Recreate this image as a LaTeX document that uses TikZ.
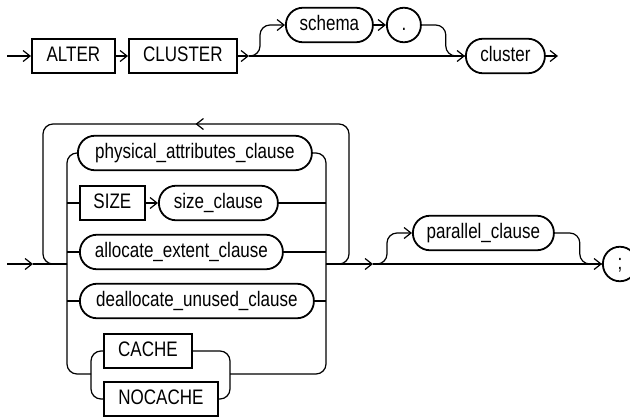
\documentclass[tikz,border=0pt]{standalone}
\usepackage{fontspec}
\setmainfont{Liberation Sans}[FakeStretch=0.81]
\usetikzlibrary{arrows.meta,decorations.markings}

\begin{document}
\begin{tikzpicture}[x=1pt, y=-1pt,
  font=\fontsize{21}{25}\selectfont,
  >={Straight Barb[length=7pt,width=11pt]},
  rail/.style={line width=1.2pt},
  kwbox/.style={draw, line width=1.8pt, anchor=west, minimum height=34.5pt,
    inner xsep=4pt, text height=15pt, text depth=4.5pt},
  ntbox/.style={kwbox, rounded corners=17pt}]
  \useasboundingbox (0,0) rectangle (630,418);

  % First line: ALTER CLUSTER [schema .] cluster
  \node[kwbox, minimum width=83pt] (ALTER) at (31,56) {ALTER};
  \node[kwbox, minimum width=108pt] (CLUSTER) at (128,56) {CLUSTER};
  \node[ntbox, minimum width=87pt] (schema) at (285,25) {schema};
  \node[ntbox, minimum width=34pt] (dot) at (386,25) {.};
  \node[ntbox, minimum width=79pt] (cluster) at (465,56) {cluster};
  \coordinate (in1) at (7,56);
  \coordinate (fork1) at (249,56);
  \coordinate (out1) at (558,56);

  \draw[rail, ->] (in1) -- (ALTER);
  \draw[rail, ->] (ALTER) -- (CLUSTER);
  \draw[rail, ->] (CLUSTER) -- (fork1);
  \draw[rail, ->] (fork1) -- (cluster);
  \draw[rail, ->, rounded corners=10pt] (fork1) -- ++(11,0) |- (schema.west);
  \draw[rail, ->] (schema) -- (dot);
  \draw[rail, rounded corners=10pt] (dot.east) -- ++(24,0) |- (cluster.west);
  \draw[rail, ->] (cluster) -- (out1);

  % Second line: repeated choice of clauses, then [parallel_clause] ;
  \node[ntbox, minimum width=234pt] (physical) at (77,153) {physical\_attributes\_clause};
  \node[kwbox, minimum width=65pt] (SIZE) at (79,203) {SIZE};
  \node[ntbox, minimum width=119pt] (sizeclause) at (158,203) {size\_clause};
  \node[ntbox, minimum width=203pt] (allocate) at (79,252) {allocate\_extent\_clause};
  \node[ntbox, minimum width=234pt] (deallocate) at (79,301) {deallocate\_unused\_clause};
  \node[kwbox, minimum width=88pt] (CACHE) at (103,351) {CACHE};
  \node[kwbox, minimum width=114pt] (NOCACHE) at (103,399) {NOCACHE};
  \node[ntbox, minimum width=141pt] (parallel) at (412,233) {parallel\_clause};
  \node[ntbox, minimum width=34pt] (semi) at (602,264) {;};
  \coordinate (in2) at (7,264);
  \coordinate (tip2) at (33,264);
  \coordinate (railL) at (67,264);
  \coordinate (railR) at (326,264);
  \coordinate (loopL) at (43,264);
  \coordinate (loopR) at (349,124);
  \coordinate (cacheL) at (91,374);
  \coordinate (cacheR) at (230,374);
  \coordinate (fork2) at (373,264);

  \draw[rail, ->] (in2) -- (tip2);
  \draw[rail] (tip2) -- (railL);
  \draw[rail, rounded corners=10pt] (railL) |- (physical.west);
  \draw[rail, rounded corners=10pt] (physical.east) -| (railR);
  \draw[rail] (SIZE.west -| railL) -- (SIZE.west);
  \draw[rail, ->] (SIZE) -- (sizeclause);
  \draw[rail] (sizeclause.east) -- (sizeclause.east -| railR);
  \draw[rail] (allocate.west -| railL) -- (allocate.west);
  \draw[rail] (allocate.east) -- (allocate.east -| railR);
  \draw[rail] (deallocate.west -| railL) -- (deallocate.west);
  \draw[rail] (deallocate.east) -- (deallocate.east -| railR);
  \draw[rail, rounded corners=10pt] (railL) |- (cacheL);
  \draw[rail, rounded corners=10pt] (cacheR) -| (railR);
  \draw[rail, rounded corners=10pt] (CACHE.west) -| (cacheL) |- (NOCACHE.west);
  \draw[rail, rounded corners=10pt] (CACHE.east) -| (cacheR) |- (NOCACHE.east);

  % Loop back over the whole choice
  \draw[rail, rounded corners=10pt, postaction={decorate},
    decoration={markings, mark=at position 0.5 with {\arrow{>}}}]
    (railR) -| (loopR) -| (loopL) -- (railL);

  \draw[rail, ->] (railR) -- (fork2);
  \draw[rail, ->] (fork2) -- (semi);
  \draw[rail, ->, rounded corners=10pt] (fork2) -- ++(14,0) |- (parallel.west);
  \draw[rail, rounded corners=10pt] (parallel.east) -- ++(25,0) |- (semi.west);
\end{tikzpicture}
\end{document}
